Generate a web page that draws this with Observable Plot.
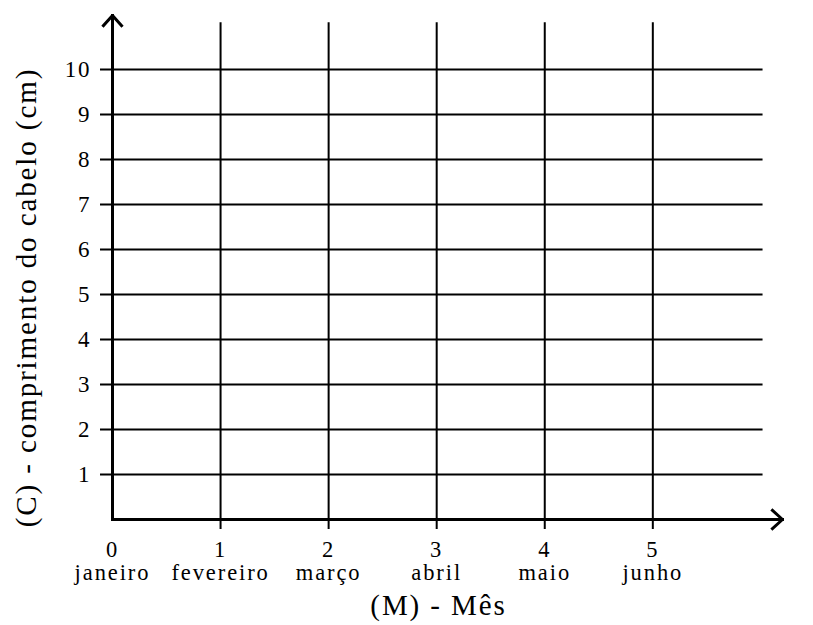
<!DOCTYPE html>
<html>
<head>
<meta charset="utf-8">
<script src="https://cdn.jsdelivr.net/npm/d3@7"></script>
<script src="https://cdn.jsdelivr.net/npm/@observablehq/plot@0.6"></script>
<style>
  html, body { margin: 0; padding: 0; background: #fff; overflow: hidden; }
</style>
</head>
<body>
<div id="chart"></div>
<script>
// Data
const monthNumbers = [0, 1, 2, 3, 4, 5];
const monthNames = ["janeiro", "fevereiro", "março", "abril", "maio", "junho"];
const lengthTicks = [1, 2, 3, 4, 5, 6, 7, 8, 9, 10];
const xTitle = "(M) - Mês";
const yTitle = "(C) - comprimento do cabelo (cm)";

// Axis extents (data units)
const xMax = 6.2, yMax = 11.2;
const gridXStart = -0.111, gridXEnd = 6.02;
const gridYStart = -0.22, gridYEnd = 11.04;

const months = monthNumbers.map((m, i) => ({m, name: monthNames[i]}));
const axes = [
  {x1: 0, y1: 0, x2: xMax, y2: 0},
  {x1: 0, y1: 0, x2: 0, y2: yMax}
];

const font = "Liberation Serif, Times New Roman, serif";

const chart = Plot.plot({
  width: 813,
  height: 625,
  marginLeft: 112,
  marginRight: 31,
  marginTop: 15,
  marginBottom: 106,
  x: {domain: [0, xMax], axis: null},
  y: {domain: [0, yMax], axis: null},
  style: {background: "white", color: "black", overflow: "visible", letterSpacing: "1.9px"},
  marks: [
    Plot.ruleY(lengthTicks, {y: d => d, x1: gridXStart, x2: gridXEnd, stroke: "black", strokeWidth: 2}),
    Plot.ruleX(monthNumbers.filter(d => d > 0), {x: d => d, y1: gridYStart, y2: gridYEnd, stroke: "black", strokeWidth: 2}),
    Plot.arrow(axes, {
      x1: "x1", y1: "y1", x2: "x2", y2: "y2",
      stroke: "black", strokeWidth: 3, headAngle: 84, headLength: 6.75,
      strokeLinecap: "square"
    }),
    Plot.text(months, {
      x: "m", text: d => String(d.m), frameAnchor: "bottom",
      dy: 37, lineAnchor: "bottom", fontSize: 22.5, fontFamily: font
    }),
    Plot.text(months, {
      x: "m", text: "name", frameAnchor: "bottom",
      dy: 60, lineAnchor: "bottom", fontSize: 22.5, fontFamily: font
    }),
    Plot.text(lengthTicks, {
      y: d => d, text: d => String(d), frameAnchor: "left",
      dx: -21, textAnchor: "end", lineAnchor: "middle", fontSize: 23, fontFamily: font
    }),
    Plot.text([xTitle], {
      text: d => d, frameAnchor: "bottom", dx: -9, dy: 95,
      lineAnchor: "bottom", fontSize: 29, fontFamily: font
    }),
    Plot.text([yTitle], {
      text: d => d, frameAnchor: "left", rotate: -90, dx: -77, dy: 30,
      textAnchor: "middle", lineAnchor: "bottom", fontSize: 29, fontFamily: font
    })
  ]
});

document.getElementById("chart").appendChild(chart);
</script>
</body>
</html>
